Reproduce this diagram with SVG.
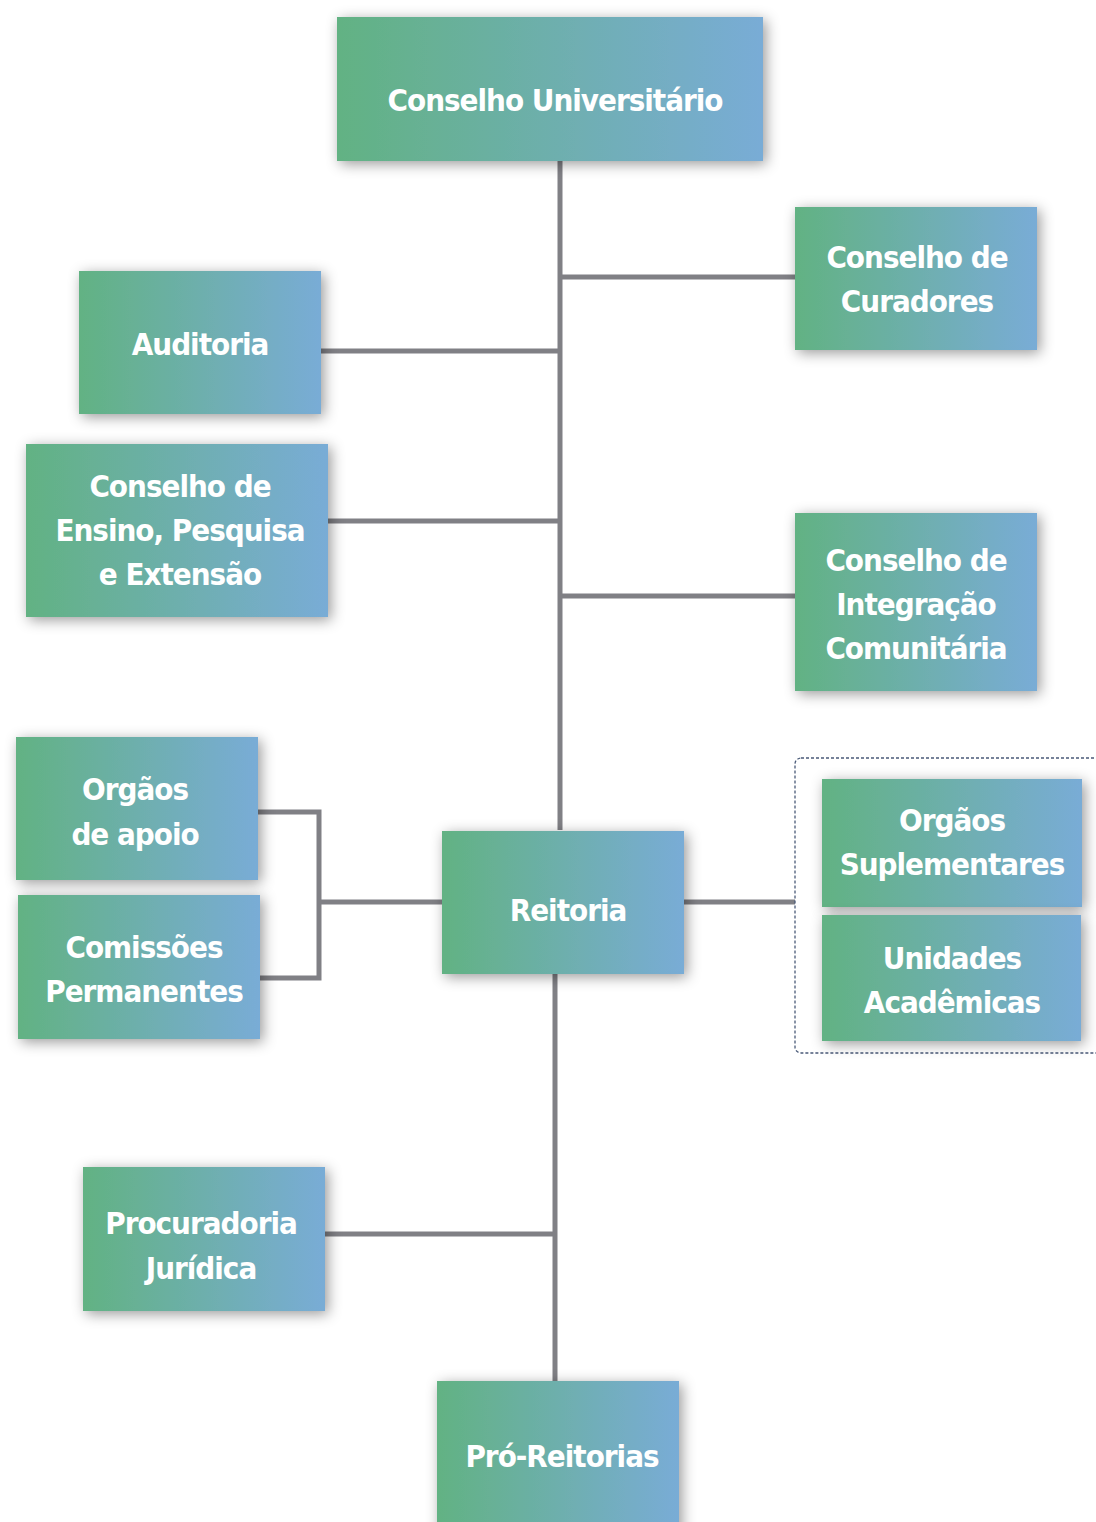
<svg xmlns="http://www.w3.org/2000/svg" width="1096" height="1522" viewBox="0 0 1096 1522">
<defs>
<linearGradient id="g" x1="0" y1="0" x2="1" y2="0">
<stop offset="0" stop-color="#62b283"/>
<stop offset="1" stop-color="#79acd6"/>
</linearGradient>
<filter id="sh" x="-20%" y="-25%" width="140%" height="150%">
<feDropShadow dx="3" dy="3" stdDeviation="7" flood-color="#000" flood-opacity="0.4"/>
</filter>
</defs>
<style>
.box{fill:url(#g);filter:url(#sh)}
.t{font-family:"DejaVu Sans Condensed","DejaVu Sans",sans-serif;font-weight:bold;font-size:31px;letter-spacing:-1px;fill:#fff;text-anchor:middle}
.c{stroke:#808085;stroke-width:5;fill:none}
</style>
<rect x="0" y="0" width="1096" height="1522" fill="#fff"/>
<g id="connectors">
<path class="c" d="M560 161V830"/>
<path class="c" d="M555 973V1381"/>
<path class="c" d="M560 277H795"/>
<path class="c" d="M321 351H558"/>
<path class="c" d="M328 521H558"/>
<path class="c" d="M560 596H795"/>
<path class="c" d="M258 812H319V978H260"/>
<path class="c" d="M319 902H442"/>
<path class="c" d="M684 902H795"/>
<path class="c" d="M325 1234H555"/>
<rect x="795" y="758" width="320" height="295" rx="6" fill="none" stroke="#4a5a78" stroke-width="1.3" stroke-dasharray="3 2"/>
</g>
<g id="conselho-universitario"><rect class="box" x="337" y="17" width="426" height="144"/><text class="t" x="555" y="111">Conselho Universitário</text></g>
<g id="conselho-curadores"><rect class="box" x="795" y="207" width="242" height="143"/><text class="t" x="917" y="268">Conselho de</text><text class="t" x="917" y="312">Curadores</text></g>
<g id="auditoria"><rect class="box" x="79" y="271" width="242" height="143"/><text class="t" x="200" y="355">Auditoria</text></g>
<g id="conselho-ensino"><rect class="box" x="26" y="444" width="302" height="173"/><text class="t" x="180" y="497">Conselho de</text><text class="t" x="180" y="541">Ensino, Pesquisa</text><text class="t" x="180" y="585">e Extensão</text></g>
<g id="conselho-integracao"><rect class="box" x="795" y="513" width="242" height="178"/><text class="t" x="916" y="571">Conselho de</text><text class="t" x="916" y="615">Integração</text><text class="t" x="916" y="659">Comunitária</text></g>
<g id="orgaos-apoio"><rect class="box" x="16" y="737" width="242" height="143"/><text class="t" x="135" y="800">Orgãos</text><text class="t" x="135" y="845">de apoio</text></g>
<g id="comissoes"><rect class="box" x="18" y="895" width="242" height="144"/><text class="t" x="144" y="958">Comissões</text><text class="t" x="144" y="1002">Permanentes</text></g>
<g id="reitoria"><rect class="box" x="442" y="831" width="242" height="143"/><text class="t" x="568" y="921">Reitoria</text></g>
<g id="orgaos-suplementares"><rect class="box" x="822" y="779" width="260" height="128"/><text class="t" x="952" y="831">Orgãos</text><text class="t" x="952" y="875">Suplementares</text></g>
<g id="unidades-academicas"><rect class="box" x="822" y="915" width="259" height="126"/><text class="t" x="952" y="969">Unidades</text><text class="t" x="952" y="1013">Acadêmicas</text></g>
<g id="procuradoria"><rect class="box" x="83" y="1167" width="242" height="144"/><text class="t" x="201" y="1234">Procuradoria</text><text class="t" x="201" y="1279">Jurídica</text></g>
<g id="pro-reitorias"><rect class="box" x="437" y="1381" width="242" height="160"/><text class="t" x="562" y="1467">Pró-Reitorias</text></g>
</svg>
